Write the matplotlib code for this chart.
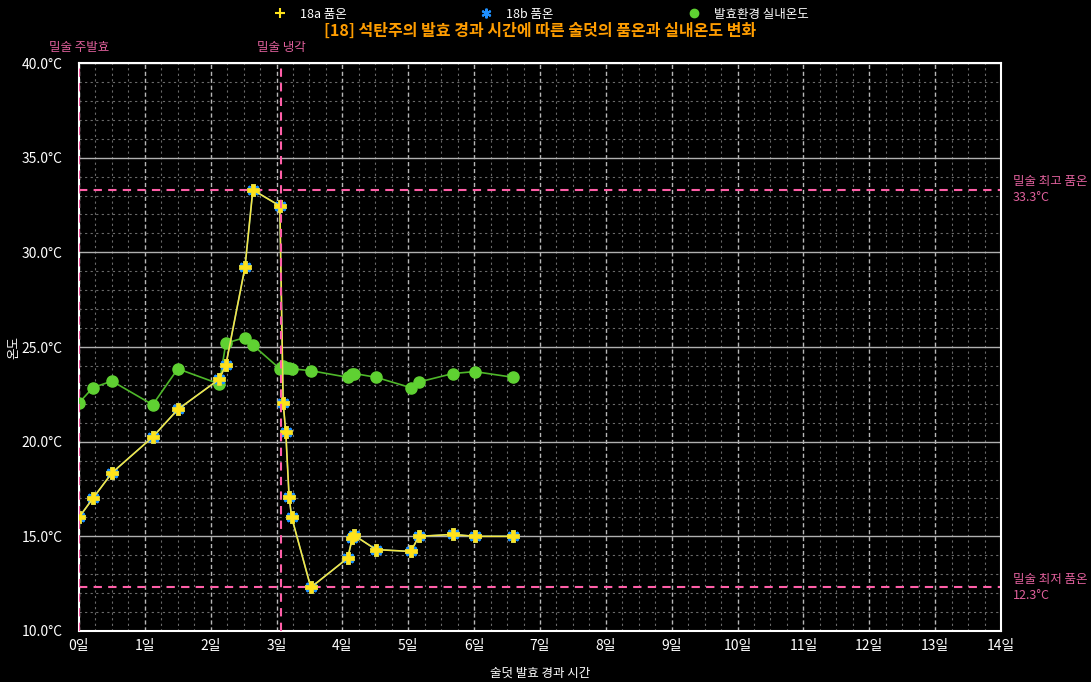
import matplotlib.pyplot as plt
from matplotlib.lines import Line2D
from matplotlib.ticker import MultipleLocator, FuncFormatter

plt.rcParams['font.family'] = ['Noto Sans CJK KR', 'DejaVu Sans']

# 경과 시간 (일)
days = [0.0, 0.21, 0.5, 1.12, 1.5, 2.13, 2.23, 2.52, 2.64, 3.05, 3.1, 3.14,
        3.19, 3.23, 3.52, 4.08, 4.15, 4.18, 4.51, 5.04, 5.16, 5.68, 6.01, 6.59]
# 18a / 18b 품온
temp_18a = [16.0, 17.0, 18.35, 20.25, 21.7, 23.3, 24.05, 29.2, 33.3, 32.45, 22.05, 20.5,
            17.1, 16.0, 12.3, 13.85, 14.9, 15.05, 14.3, 14.2, 15.0, 15.1, 15.0, 15.0]
temp_18b = list(temp_18a)
# 발효환경 실내온도
room = [22.05, 22.85, 23.2, 21.95, 23.85, 23.05, 25.2, 25.5, 25.1, 23.85, 24.0, 23.9,
        23.9, 23.85, 23.75, 23.4, 23.55, 23.6, 23.4, 22.85, 23.15, 23.6, 23.7, 23.4]

start_day = 0.0
cool_day = 3.07
t_max = 33.3
t_min = 12.3

pink = '#ff5fa8'
pink_txt = '#e0609c'

fig = plt.figure(figsize=(10.91, 6.82), dpi=100, facecolor='black')
ax = fig.add_axes([0.0724, 0.0748, 0.8451, 0.8328], facecolor='black')

ax.plot(days, room, color='#4fb82a', lw=1.2, marker='o', ms=8,
        mfc='#5fd132', mec='#5fd132', zorder=3)
ax.plot(days, temp_18b, color='#1e90ff', lw=1.0, marker=(6, 2, 0), ms=9,
        mew=3, mec='#1e90ff', zorder=4)
ax.plot(days, temp_18a, color='#f5e642', lw=1.2, marker='P', ms=8.5,
        mfc='#ffe21a', mec='#ffe21a', mew=0.5, zorder=5)

ax.axvline(start_day, color=pink, ls='--', lw=1.5, dashes=(4, 3), zorder=6)
ax.axvline(cool_day, color=pink, ls='--', lw=1.5, dashes=(4, 3), zorder=6)
ax.axhline(t_max, color=pink, ls='--', lw=1.5, dashes=(4, 3), zorder=2)
ax.axhline(t_min, color=pink, ls='--', lw=1.5, dashes=(4, 3), zorder=2)

ax.text(start_day, 40.45, '밀술 주발효', color=pink_txt, fontsize=9, ha='center', va='bottom')
ax.text(cool_day, 40.45, '밀술 냉각', color=pink_txt, fontsize=9, ha='center', va='bottom')
ax.text(14.18, t_max, f'밀술 최고 품온\n{t_max}°C', color=pink_txt, fontsize=9,
        ha='left', va='center', linespacing=1.3)
ax.text(14.18, t_min, f'밀술 최저 품온\n{t_min}°C', color=pink_txt, fontsize=9,
        ha='left', va='center', linespacing=1.3)

ax.set_xlim(0, 14)
ax.set_ylim(10, 40)
ax.xaxis.set_major_locator(MultipleLocator(1))
ax.xaxis.set_minor_locator(MultipleLocator(0.25))
ax.yaxis.set_major_locator(MultipleLocator(5))
ax.yaxis.set_minor_locator(MultipleLocator(1))
ax.xaxis.set_major_formatter(FuncFormatter(lambda v, p: f'{int(v)}일'))
ax.yaxis.set_major_formatter(FuncFormatter(lambda v, p: f'{v:.1f}°C'))

ax.grid(True, axis='y', which='major', color='#b0b0b0', ls='-', lw=1.0)
ax.grid(True, axis='x', which='major', color='#b8b8b8', ls='--', lw=1.0, dashes=(3, 2))
ax.grid(True, which='minor', color='#6a6a6a', ls='--', lw=0.8, dashes=(2, 3))
ax.set_axisbelow(True)

for s in ax.spines.values():
    s.set_color('white')
    s.set_linewidth(1.5)
ax.tick_params(colors='white', labelsize=10, length=0)
ax.tick_params(axis='y', pad=12)
ax.tick_params(axis='x', pad=6)
ax.tick_params(which='minor', length=0)

ax.set_xlabel('술덧 발효 경과 시간', color='white', fontsize=9, labelpad=10)
ax.set_ylabel('온도', color='white', fontsize=9)
ax.yaxis.set_label_coords(-0.064, 0.5)

handles = [
    Line2D([], [], ls='none', marker='+', ms=7, mew=1.5, color='#ffe21a'),
    Line2D([], [], ls='none', marker=(6, 2, 0), ms=7, mew=1.5, color='#1e90ff'),
    Line2D([], [], ls='none', marker='o', ms=6, color='#5fd132'),
]
fig.legend(handles, ['18a 품온', '18b 품온', '발효환경 실내온도'], loc='upper center',
           bbox_to_anchor=(0.493, 1.005), ncol=3, frameon=False, fontsize=9,
           labelcolor='white', columnspacing=10.2, handletextpad=0.6)
fig.text(0.495, 0.955, '[18] 석탄주의 발효 경과 시간에 따른 술덧의 품온과 실내온도 변화',
         color='#ff9d00', fontsize=11.5, fontweight='bold', ha='center', va='center')

fig.savefig('out.png', dpi=100, facecolor='black')
